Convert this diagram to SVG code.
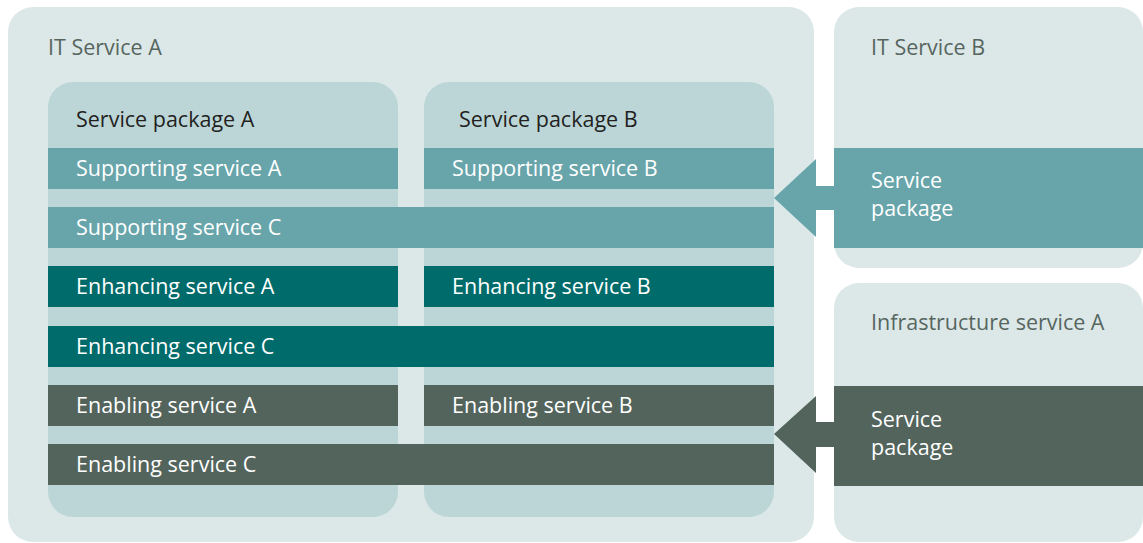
<svg xmlns="http://www.w3.org/2000/svg" width="1143" height="543" viewBox="0 0 1143 543">
  <style>
    .outer { fill: #dce8e8; }
    .pkg { fill: #bcd6d8; }
    .sup { fill: #67a5ab; }
    .enh { fill: #006b6b; }
    .ena { fill: #53645c; }
    text { font-family: "Open Sans", "Noto Sans", sans-serif; font-size: 21.5px; }
    .title { fill: #56665f; }
    .ptitle { fill: #231f20; }
    .lbl { fill: #ffffff; }
  </style>
  <rect width="1143" height="543" fill="#ffffff"/>

  <!-- IT Service A container -->
  <g id="it-service-a">
    <rect class="outer" x="8" y="7" width="806" height="535" rx="25"/>
    <text class="title" x="48" y="55">IT Service A</text>
  </g>

  <!-- Service packages -->
  <g id="service-package-a">
    <rect class="pkg" x="48" y="82" width="350" height="435" rx="25"/>
    <text class="ptitle" x="76" y="127">Service package A</text>
  </g>
  <g id="service-package-b">
    <rect class="pkg" x="424" y="82" width="350" height="435" rx="25"/>
    <text class="ptitle" x="459" y="127">Service package B</text>
  </g>

  <!-- Service bars -->
  <g id="supporting-service-a">
    <rect class="sup" x="48" y="148" width="350" height="41"/>
    <text class="lbl" x="76" y="176">Supporting service A</text>
  </g>
  <g id="supporting-service-b">
    <rect class="sup" x="424" y="148" width="350" height="41"/>
    <text class="lbl" x="452" y="176">Supporting service B</text>
  </g>
  <g id="supporting-service-c">
    <rect class="sup" x="48" y="207" width="726" height="41"/>
    <text class="lbl" x="76" y="235">Supporting service C</text>
  </g>
  <g id="enhancing-service-a">
    <rect class="enh" x="48" y="266" width="350" height="41"/>
    <text class="lbl" x="76" y="294">Enhancing service A</text>
  </g>
  <g id="enhancing-service-b">
    <rect class="enh" x="424" y="266" width="350" height="41"/>
    <text class="lbl" x="452" y="294">Enhancing service B</text>
  </g>
  <g id="enhancing-service-c">
    <rect class="enh" x="48" y="326" width="726" height="41"/>
    <text class="lbl" x="76" y="354">Enhancing service C</text>
  </g>
  <g id="enabling-service-a">
    <rect class="ena" x="48" y="385" width="350" height="41"/>
    <text class="lbl" x="76" y="413">Enabling service A</text>
  </g>
  <g id="enabling-service-b">
    <rect class="ena" x="424" y="385" width="350" height="41"/>
    <text class="lbl" x="452" y="413">Enabling service B</text>
  </g>
  <g id="enabling-service-c">
    <rect class="ena" x="48" y="444" width="726" height="41"/>
    <text class="lbl" x="76" y="472">Enabling service C</text>
  </g>

  <!-- IT Service B -->
  <g id="it-service-b">
    <rect class="outer" x="834" y="7" width="309" height="261" rx="25"/>
    <text class="title" x="871" y="55">IT Service B</text>
    <rect class="sup" x="834" y="148" width="309" height="100"/>
    <text class="lbl" x="871" y="188">Service</text>
    <text class="lbl" x="871" y="216">package</text>
  </g>

  <!-- Infrastructure service A -->
  <g id="infrastructure-service-a">
    <rect class="outer" x="834" y="283" width="309" height="259" rx="25"/>
    <text class="title" x="871" y="330">Infrastructure service A</text>
    <rect class="ena" x="834" y="386" width="309" height="100"/>
    <text class="lbl" x="871" y="427">Service</text>
    <text class="lbl" x="871" y="455">package</text>
  </g>

  <!-- Connectors: packages delivered into IT Service A -->
  <g id="connectors">
    <polygon class="sup" points="774,198 816,159 816,186 835,186 835,210 816,210 816,237"/>
    <polygon class="ena" points="774,434 816,396 816,422 835,422 835,447 816,447 816,473"/>
  </g>
</svg>
